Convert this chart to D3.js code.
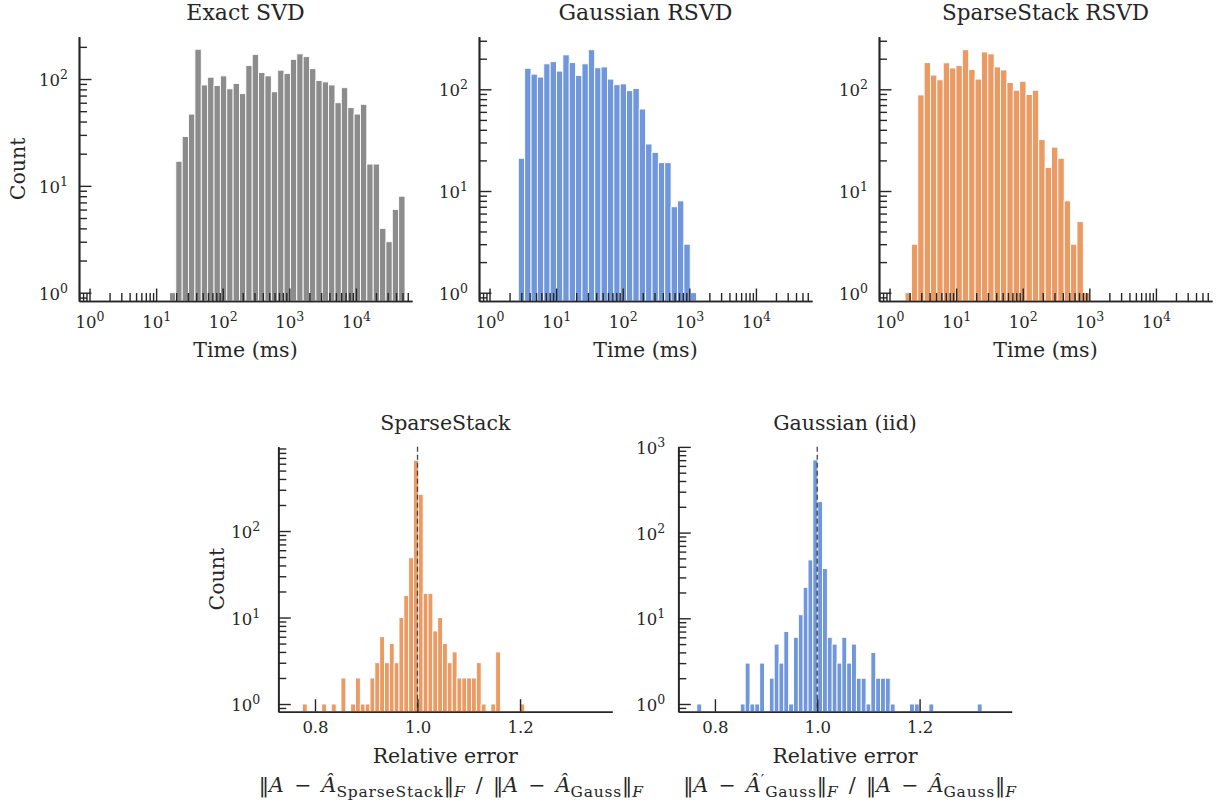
<!DOCTYPE html>
<html>
<head>
<meta charset="utf-8">
<script src="https://cdn.jsdelivr.net/npm/d3@7"></script>
<style>
body{margin:0;background:#fff;}
text{font-family:"DejaVu Serif",serif;fill:#262626;}
</style>
</head>
<body>
<div id="chart"></div>
<script>
// timing histograms: log10 of first bin edge, log10 bin width, counts per bin
var exactStart = 1.20, exactWidth = 0.0956;
var exactCounts = [1,17,29,47,190,88,104,87,107,81,91,73,134,170,115,107,76,121,113,153,172,162,125,97,94,88,60,83,54,47,58,16,16,4,3,6,8];

var gaussTimeStart = 0.432, gaussTimeWidth = 0.0956;
var gaussTimeCounts = [21,161,141,132,178,187,151,218,183,137,178,245,163,166,126,111,113,97,102,64,29,24,19,19,7,8,3,1];

var sparseTimeStart = 0.233, sparseTimeWidth = 0.0956;
var sparseTimeCounts = [1,3,88,183,138,124,182,162,171,245,157,126,233,223,166,155,117,98,120,89,98,32,17,27,21,8,3,5,1];

// relative error histograms: first bin edge, bin width, counts
var sparseErrStart = 0.7753, sparseErrWidth = 0.00943;
var sparseErrCounts = [1,0,0,0,1,0,1,0,2,0,1,2,1,1,2,3,6,3,5,3,10,18,49,660,266,19,19,7,10,5,3,4,2,2,2,2,3,1,0,1,4,0,0,0,0,1];

var gaussErrStart = 0.7646, gaussErrWidth = 0.00945;
var gaussErrCounts = [1,0,0,0,0,0,0,0,0,1,3,1,1,3,0,2,5,3,7,1,6,11,23,48,705,230,38,6,5,3,6,3,5,2,2,1,4,2,2,2,1,0,0,0,1,1,0,0,1,0,0,0,0,0,0,0,0,0,1];

var timeDomain = [Math.pow(10,-0.158), Math.pow(10,4.842)];
var errDomain = [0.7284, 1.380];
var errTicks = [0.8, 1.0, 1.2];

var svg = d3.select("#chart").append("svg")
            .attr("width",1221)
            .attr("height",803);

function logTicks(dom){
  var lo = Math.floor(Math.log10(dom[0])), hi = Math.ceil(Math.log10(dom[1]));
  var major = [], minor = [];
  for(var k=lo;k<=hi;k++){
    var p = Math.pow(10,k);
    if(p>=dom[0] && p<=dom[1]) major.push(p);
    for(var m=2;m<10;m++){
      var v = m*p;
      if(v>=dom[0] && v<=dom[1]) minor.push(v);
    }
  }
  return {major:major, minor:minor};
}

function powLabel(sel, baseY){
  sel.each(function(d){
    var t = d3.select(this);
    t.text(null).attr("dy",null).attr("y",baseY);
    t.append("tspan").text("10");
    t.append("tspan").attr("dy",-7).attr("font-size",12.5).text(Math.round(Math.log10(d)));
  });
}

function styleAxis(a){
  a.attr("font-size",16.5).attr("font-family",null);
  a.select(".domain").attr("stroke","#262626").attr("stroke-width",1.7);
  a.selectAll(".tick line").attr("stroke","#262626").attr("stroke-width",1.4);
}

function drawPanel(p){
  var w = p.right-p.left, h = p.bottom-p.top;
  var g = svg.append("g").attr("transform","translate("+p.left+","+p.top+")");
  var x = (p.xlog ? d3.scaleLog() : d3.scaleLinear()).domain(p.xdom).range([0,w]);
  var y = d3.scaleLog().domain(p.ydom).range([h,0]);
  var ex = p.xlog ? function(e){ return x(Math.pow(10,e)); } : x;

  var bars = p.counts.map(function(c,i){
    return {c:c, e0:p.start+i*p.bw, e1:p.start+(i+1)*p.bw};
  }).filter(function(d){ return d.c>0; });

  g.selectAll("rect.bar").data(bars).enter().append("rect")
    .attr("class","bar")
    .attr("x",function(d){ return ex(d.e0); })
    .attr("width",function(d){ return ex(d.e1)-ex(d.e0); })
    .attr("y",function(d){ return y(d.c); })
    .attr("height",function(d){ return h-y(d.c); })
    .attr("fill",p.color)
    .attr("stroke","#fff")
    .attr("stroke-width",0.9);

  if(p.dashed){
    g.append("line")
      .attr("x1",x(1)).attr("x2",x(1))
      .attr("y1",0).attr("y2",h)
      .attr("stroke","#444").attr("stroke-width",1.3)
      .attr("stroke-dasharray","5,3");
  }

  // x axis
  var xt = p.xlog ? logTicks(p.xdom) : {major:p.xticks, minor:[]};
  if(xt.minor.length){
    var xm = g.append("g").attr("transform","translate(0,"+h+")")
      .call(d3.axisBottom(x).tickValues(xt.minor).tickSize(-8).tickSizeOuter(0).tickFormat(""));
    styleAxis(xm);
  }
  var xa = g.append("g").attr("transform","translate(0,"+h+")")
    .call(d3.axisBottom(x).tickValues(xt.major).tickSize(-12.5).tickSizeOuter(0)
      .tickFormat(p.xlog ? null : d3.format(".1f")));
  styleAxis(xa);
  if(p.xlog) powLabel(xa.selectAll(".tick text"), 27);
  else xa.selectAll(".tick text").attr("dy",null).attr("y",21.5);

  // y axis
  var yt = logTicks(p.ydom);
  var ym = g.append("g")
    .call(d3.axisLeft(y).tickValues(yt.minor).tickSize(-8).tickSizeOuter(0).tickFormat(""));
  styleAxis(ym);
  var ya = g.append("g")
    .call(d3.axisLeft(y).tickValues(yt.major).tickSize(-12.5).tickSizeOuter(0).tickPadding(p.ypad));
  styleAxis(ya);
  powLabel(ya.selectAll(".tick text"), 6.5);

  // title
  svg.append("text")
    .attr("x",(p.left+p.right)/2).attr("y",p.titleY)
    .attr("text-anchor","middle").attr("font-size",p.titleSize)
    .text(p.title);

  // x label
  svg.append("text")
    .attr("x",(p.left+p.right)/2).attr("y",p.xlabelY)
    .attr("text-anchor","middle").attr("font-size",20.5)
    .text(p.xlabel);

  if(p.ylabel){
    svg.append("text")
      .attr("transform","translate("+(p.left-54)+","+((p.top+p.bottom)/2)+") rotate(-90)")
      .attr("text-anchor","middle").attr("font-size",20.5)
      .text(p.ylabel);
  }

  if(p.formula){
    var f = svg.append("text")
      .attr("x",(p.left+p.right)/2+p.fdx).attr("y",p.xlabelY+29)
      .attr("text-anchor","middle").attr("font-size",20.5);
    p.formula.forEach(function(s){
      var t = f.append("tspan").text(s.t);
      if(s.i) t.attr("font-style","italic");
      if(s.sz) t.attr("font-size",s.sz).attr("letter-spacing",0.8);
      if(s.dy) t.attr("dy",s.dy);
      if(s.dx) t.attr("dx",s.dx);
    });
  }
}

var formulaSparse = [
  {t:"\u2016"},{t:"A",i:1},{t:"\u2002\u2212\u2002"},{t:"\u00C2",i:1},
  {t:"SparseStack",sz:15.5,dy:5},{t:"\u2016",dy:-5},{t:"F",i:1,sz:15.5,dy:5},
  {t:"\u2002/\u2002",dy:-5},{t:"\u2016"},{t:"A",i:1},{t:"\u2002\u2212\u2002"},{t:"\u00C2",i:1},
  {t:"Gauss",sz:15.5,dy:5},{t:"\u2016",dy:-5},{t:"F",i:1,sz:15.5,dy:5}
];
var formulaGauss = [
  {t:"\u2016"},{t:"A",i:1},{t:"\u2002\u2212\u2002"},{t:"\u00C2",i:1},
  {t:"\u2032",sz:15.5,dy:-7},{t:"Gauss",sz:15.5,dy:12},{t:"\u2016",dy:-5},{t:"F",i:1,sz:15.5,dy:5},
  {t:"\u2002/\u2002",dy:-5},{t:"\u2016"},{t:"A",i:1},{t:"\u2002\u2212\u2002"},{t:"\u00C2",i:1},
  {t:"Gauss",sz:15.5,dy:5},{t:"\u2016",dy:-5},{t:"F",i:1,sz:15.5,dy:5}
];

drawPanel({left:79, right:412, top:36.7, bottom:301, xlog:true, xdom:timeDomain, ydom:[0.836,249],
  start:exactStart, bw:exactWidth, counts:exactCounts, color:"#8c8c8c", ypad:11,
  title:"Exact SVD", titleSize:22, titleY:19.5, xlabel:"Time (ms)", xlabelY:357, ylabel:"Count"});
drawPanel({left:479, right:812, top:36.7, bottom:301, xlog:true, xdom:timeDomain, ydom:[0.829,329],
  start:gaussTimeStart, bw:gaussTimeWidth, counts:gaussTimeCounts, color:"#7097dc", ypad:11,
  title:"Gaussian RSVD", titleSize:22, titleY:19.5, xlabel:"Time (ms)", xlabelY:357});
drawPanel({left:879, right:1212, top:36.7, bottom:301, xlog:true, xdom:timeDomain, ydom:[0.829,329],
  start:sparseTimeStart, bw:sparseTimeWidth, counts:sparseTimeCounts, color:"#ea9a62", ypad:11,
  title:"SparseStack RSVD", titleSize:21.5, titleY:19.5, xlabel:"Time (ms)", xlabelY:357});
drawPanel({left:278.3, right:612.3, top:446.7, bottom:711.7, xlog:false, xdom:errDomain, xticks:errTicks, ydom:[0.815,944],
  start:sparseErrStart, bw:sparseErrWidth, counts:sparseErrCounts, color:"#ea9a62", ypad:18, dashed:true, fdx:6,
  title:"SparseStack", titleSize:20.5, titleY:430, xlabel:"Relative error", xlabelY:763, ylabel:"Count", formula:formulaSparse});
drawPanel({left:678.3, right:1011.7, top:446.7, bottom:711.7, xlog:false, xdom:errDomain, xticks:errTicks, ydom:[0.813,1005],
  start:gaussErrStart, bw:gaussErrWidth, counts:gaussErrCounts, color:"#7097dc", ypad:13, dashed:true, fdx:5,
  title:"Gaussian (iid)", titleSize:20.5, titleY:430, xlabel:"Relative error", xlabelY:763, formula:formulaGauss});
</script>
</body>
</html>
